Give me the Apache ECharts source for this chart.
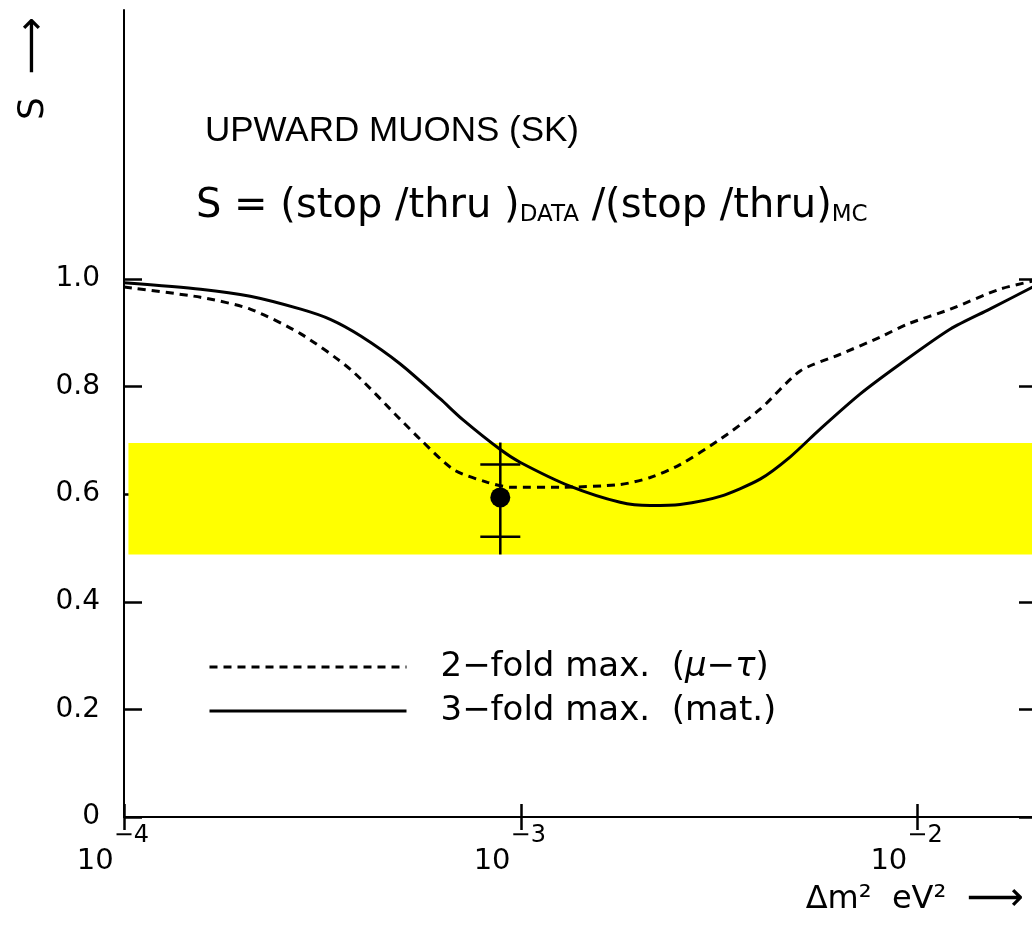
<!DOCTYPE html>
<html>
<head>
<meta charset="utf-8">
<script src="https://cdn.jsdelivr.net/npm/echarts@6/dist/echarts.min.js"></script>
<style>
  html, body { margin: 0; padding: 0; background: #fff; }
  #main { width: 1032px; height: 926px; }
</style>
</head>
<body>
<div id="main"></div>
<script>
// curves (x in eV^2, y = S)
let solidX = [1.0e-4, 1.56e-4, 2.08e-4, 2.79e-4, 3.31e-4, 3.95e-4, 4.97e-4, 6.27e-4, 7.13e-4, 8.88e-4, 9.98e-4, 1.33e-3, 1.78e-3, 2.12e-3, 2.52e-3, 3.18e-3, 4.01e-3, 4.77e-3, 5.68e-3, 7.16e-3, 9.04e-3, 1.21e-2, 1.52e-2, 1.95e-2];
let solidY = [0.993, 0.981, 0.968, 0.944, 0.925, 0.894, 0.842, 0.777, 0.739, 0.683, 0.659, 0.615, 0.585, 0.579, 0.581, 0.596, 0.628, 0.669, 0.721, 0.786, 0.842, 0.907, 0.944, 0.985];

let dashedX = [1.0e-4, 1.56e-4, 2.08e-4, 2.79e-4, 3.72e-4, 4.97e-4, 5.58e-4, 6.76e-4, 8.24e-4, 9.41e-4, 1.26e-3, 1.78e-3, 2.12e-3, 2.52e-3, 3.18e-3, 4.01e-3, 5.06e-3, 6.38e-3, 8.05e-3, 9.42e-3, 1.21e-2, 1.61e-2, 1.95e-2];
let dashedY = [0.985, 0.966, 0.944, 0.898, 0.832, 0.739, 0.702, 0.646, 0.622, 0.613, 0.613, 0.618, 0.631, 0.655, 0.702, 0.758, 0.829, 0.860, 0.892, 0.916, 0.944, 0.981, 0.996];

// data point with stat (caps) and total error
let pointX = [8.88e-4];
let pointY = [0.594];
let statLow = [0.521];
let statHigh = [0.655];
let totLow = [0.488];
let totHigh = [0.696];

// yellow band
let bandX = [1.026e-4, 2.0e-2];
let bandY = [0.488, 0.695];

let yTicks = [0, 0.2, 0.4, 0.6, 0.8, 1.0];
let xMin = 1e-4, xMax = 2e-2;
let seriesNames = ['2\u2212fold max.  (\u03bc\u2212\u03c4)', '3\u2212fold max.  (mat.)'];

const SANS = 'DejaVu Sans';

function zip(xs, ys) {
    return xs.map((x, i) => [x, ys[i]]);
}

function expLabel(v) {
    let e = Math.round(Math.log10(v));
    return '{b|10}{s|' + (e < 0 ? '\u2212' + (-e) : e) + '}';
}

let myChart = echarts.init(document.getElementById('main'));

let axisLine = { show: true, lineStyle: { color: '#000', width: 2 } };
let tickStyle = { color: '#000', width: 2.5 };

let options = {
    animation: false,
    backgroundColor: '#fff',
    grid: { left: 124, top: 10, width: 913, height: 807, outerBoundsMode: 'none', containLabel: false },
    xAxis: [{
        type: 'log', logBase: 10, min: xMin, max: xMax,
        position: 'bottom',
        axisLine: axisLine,
        axisTick: { inside: true, length: 13, lineStyle: tickStyle },
        minorTick: { show: false },
        splitLine: { show: false },
        axisLabel: {
            margin: 7,
            showMaxLabel: false,
            padding: [0, 22, 0, 0],
            formatter: expLabel,
            rich: {
                b: { fontFamily: SANS, fontSize: 29, color: '#000', verticalAlign: 'bottom', lineHeight: 52 },
                s: { fontFamily: SANS, fontSize: 24, color: '#000', verticalAlign: 'top', lineHeight: 52 }
            }
        }
    }, {
        type: 'log', logBase: 10, min: xMin, max: xMax,
        position: 'top',
        axisLine: axisLine,
        axisTick: { inside: true, length: 13, lineStyle: tickStyle },
        axisLabel: { show: false },
        splitLine: { show: false }
    }],
    yAxis: [{
        type: 'value', min: 0, max: 1.5,
        position: 'left',
        axisLine: axisLine,
        axisTick: { inside: true, length: 18, customValues: yTicks, lineStyle: tickStyle },
        splitLine: { show: false },
        axisLabel: {
            customValues: yTicks,
            margin: 24,
            fontFamily: SANS, fontSize: 28, color: '#000',
            formatter: v => v === 0 ? '0' : v.toFixed(1)
        }
    }, {
        type: 'value', min: 0, max: 1.5,
        position: 'right',
        axisLine: axisLine,
        axisTick: { inside: true, length: 18, customValues: yTicks, lineStyle: tickStyle },
        splitLine: { show: false },
        axisLabel: { show: false }
    }],
    legend: {
        orient: 'vertical',
        left: 203, top: 642,
        itemWidth: 197, itemHeight: 14,
        itemGap: 4,
        data: seriesNames,
        itemStyle: { opacity: 0 },
        lineStyle: { width: 3 },
        textStyle: {
            padding: [0, 0, 0, 29],
            lineHeight: 40,
            rich: {
                n: { fontFamily: SANS, fontSize: 34, color: '#000', lineHeight: 40 },
                i: { fontFamily: SANS, fontSize: 34, color: '#000', fontStyle: 'italic', lineHeight: 40 }
            }
        },
        formatter: function (name) {
            if (name === seriesNames[0]) {
                return '{n|2\u2212fold max.  (}{i|\u03bc}{n|\u2212}{i|\u03c4}{n|)}';
            }
            return '{n|3\u2212fold max.  (mat.)}';
        }
    },
    series: [{
        name: 'band',
        type: 'line',
        data: [],
        markArea: {
            silent: true,
            itemStyle: { color: '#ffff00' },
            data: [[{ coord: [bandX[0], bandY[0]] }, { coord: [bandX[1], bandY[1]] }]]
        }
    }, {
        name: seriesNames[0],
        type: 'line',
        data: zip(dashedX, dashedY),
        showSymbol: false, symbol: 'none',
        smooth: 0.25,
        lineStyle: { color: '#000', width: 3, type: [8, 6] },
        itemStyle: { color: '#000' },
        z: 3
    }, {
        name: seriesNames[1],
        type: 'line',
        data: zip(solidX, solidY),
        showSymbol: false, symbol: 'none',
        smooth: 0.25,
        lineStyle: { color: '#000', width: 3 },
        itemStyle: { color: '#000' },
        z: 3
    }, {
        name: 'errors',
        type: 'custom',
        data: pointX.map((x, i) => [x, statLow[i], statHigh[i], totLow[i], totHigh[i]]),
        renderItem: function (params, api) {
            let lo = api.coord([api.value(0), api.value(3)]);
            let hi = api.coord([api.value(0), api.value(4)]);
            let sl = api.coord([api.value(0), api.value(1)]);
            let sh = api.coord([api.value(0), api.value(2)]);
            let st = { stroke: '#000', lineWidth: 2.5 };
            return {
                type: 'group',
                children: [
                    { type: 'line', shape: { x1: lo[0], y1: lo[1], x2: hi[0], y2: hi[1] }, style: st },
                    { type: 'line', shape: { x1: sl[0] - 20, y1: sl[1], x2: sl[0] + 20, y2: sl[1] }, style: st },
                    { type: 'line', shape: { x1: sh[0] - 20, y1: sh[1], x2: sh[0] + 20, y2: sh[1] }, style: st }
                ]
            };
        },
        z: 4
    }, {
        name: 'data',
        type: 'scatter',
        data: zip(pointX, pointY),
        symbol: 'circle',
        symbolSize: 20,
        itemStyle: { color: '#000', opacity: 1 },
        z: 5
    }],
    graphic: [{
        type: 'text', left: 205, top: 114,
        style: { text: 'UPWARD MUONS (SK)', font: '35px "Liberation Sans"', fill: '#000' }
    }, {
        type: 'text', left: 196, top: 187,
        style: {
            text: '{n|S = (stop /thru )}{s|DATA}{n| /(stop /thru)}{s|MC}',
            rich: {
                n: { fontFamily: SANS, fontSize: 40, fill: '#000', verticalAlign: 'bottom', lineHeight: 49 },
                s: { fontFamily: SANS, fontSize: 23, fill: '#000', verticalAlign: 'bottom', lineHeight: 49 }
            }
        }
    }, {
        type: 'text', right: 8, top: 880,
        style: {
            text: '{n|\u0394m\u00b2  eV\u00b2  }{a|\u27f6}',
            rich: {
                n: { fontFamily: SANS, fontSize: 32, fill: '#000' },
                a: { fontFamily: SANS, fontSize: 40, fill: '#000' }
            }
        }
    }, {
        type: 'text', x: 14, y: 120, rotation: Math.PI / 2,
        style: {
            text: '{n|S  }{a|\u27f6}',
            rich: {
                n: { fontFamily: SANS, fontSize: 36, fill: '#000' },
                a: { fontFamily: SANS, fontSize: 40, fill: '#000' }
            }
        }
    }]
};

myChart.setOption(options);
</script>
</body>
</html>
